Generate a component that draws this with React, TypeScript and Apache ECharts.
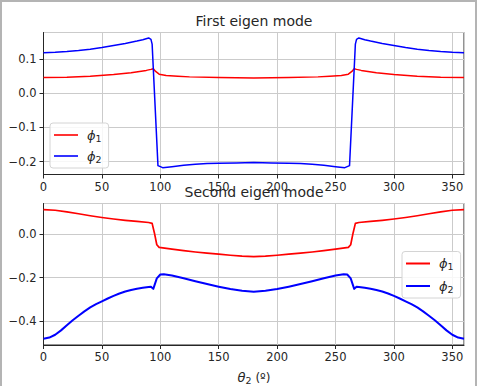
import React, { useEffect, useRef } from "react";
import * as echarts from "echarts";

// First eigen mode: phi_1 and phi_2 against theta_2 (degrees)
const mode1Phi1Theta = [0, 20, 40, 60, 75, 88, 92, 94, 96, 99, 105, 115, 125, 150, 180, 210, 235, 245, 255, 261, 264, 266, 268, 272, 285, 300, 320, 340, 360];
const mode1Phi1 = [0.046, 0.047, 0.05, 0.055, 0.06, 0.067, 0.07, 0.072, 0.064, 0.056, 0.052, 0.05, 0.048, 0.046, 0.045, 0.046, 0.048, 0.05, 0.052, 0.056, 0.064, 0.072, 0.07, 0.067, 0.06, 0.055, 0.05, 0.047, 0.046];

const mode1Phi2Theta = [0, 10, 20, 30, 40, 50, 60, 70, 80, 85, 90, 92, 93, 98, 102, 110, 120, 130, 140, 150, 165, 180, 195, 210, 220, 230, 240, 250, 258, 262, 267, 268, 270, 275, 280, 290, 300, 310, 320, 330, 340, 350, 360];
const mode1Phi2 = [0.119, 0.12, 0.122, 0.125, 0.129, 0.134, 0.14, 0.146, 0.153, 0.157, 0.162, 0.158, 0.144, -0.212, -0.218, -0.215, -0.211, -0.208, -0.206, -0.205, -0.204, -0.203, -0.204, -0.205, -0.206, -0.208, -0.211, -0.215, -0.218, -0.212, 0.144, 0.158, 0.162, 0.157, 0.153, 0.146, 0.14, 0.134, 0.129, 0.125, 0.122, 0.12, 0.119];

// Second eigen mode
const mode2Phi1Theta = [0, 10, 20, 30, 40, 50, 60, 70, 80, 90, 93, 95, 97, 99, 110, 120, 130, 140, 150, 160, 170, 180, 190, 200, 210, 220, 230, 240, 250, 261, 263, 265, 267, 270, 280, 290, 300, 310, 320, 330, 340, 350, 360];
const mode2Phi1 = [0.111, 0.108, 0.101, 0.092, 0.083, 0.075, 0.068, 0.062, 0.057, 0.052, 0.048, 0.003, -0.05, -0.062, -0.07, -0.077, -0.083, -0.088, -0.093, -0.098, -0.102, -0.104, -0.102, -0.098, -0.093, -0.088, -0.083, -0.077, -0.07, -0.062, -0.05, 0.003, 0.048, 0.052, 0.057, 0.062, 0.068, 0.075, 0.083, 0.092, 0.101, 0.108, 0.111];

const mode2Phi2Theta = [0, 5, 10, 15, 20, 25, 30, 35, 40, 45, 50, 55, 60, 65, 70, 75, 80, 85, 90, 92, 94, 97, 100, 103, 110, 120, 130, 140, 150, 160, 170, 180, 190, 200, 210, 220, 230, 240, 250, 257, 260, 263, 266, 268, 270, 275, 280, 285, 290, 295, 300, 305, 310, 315, 320, 325, 330, 335, 340, 345, 350, 355, 360];
const mode2Phi2 = [-0.48, -0.475, -0.462, -0.442, -0.419, -0.396, -0.375, -0.355, -0.337, -0.322, -0.309, -0.296, -0.284, -0.273, -0.264, -0.257, -0.251, -0.247, -0.243, -0.242, -0.252, -0.204, -0.186, -0.185, -0.191, -0.203, -0.217, -0.23, -0.242, -0.253, -0.261, -0.265, -0.261, -0.253, -0.242, -0.23, -0.217, -0.203, -0.191, -0.185, -0.186, -0.204, -0.252, -0.242, -0.243, -0.247, -0.251, -0.257, -0.264, -0.273, -0.284, -0.296, -0.309, -0.322, -0.337, -0.355, -0.375, -0.396, -0.419, -0.442, -0.462, -0.475, -0.48];

const xTickStep = 50;
const titles = ["First eigen mode", "Second eigen mode"];

const pairs = (xs: number[], ys: number[]) => xs.map((x, i) => [x, ys[i]]);

const FONT = "DejaVu Sans";
const INK = "#262626";
const GRID_COLOR = "#cbcbcb";

const fmtY = (v: number) => {
  const r = Math.round(v * 10);
  if (Math.abs(v * 10 - r) > 1e-6) return "";
  return (r / 10).toFixed(1).replace("-", "\u2212");
};
const fmtX = (v: number) => (Math.abs(v % xTickStep) < 1e-6 ? String(v) : "");

// symbol in italics followed by an upright subscript
const mathRich = {
  m: { fontSize: 13, fontStyle: "italic", fontFamily: FONT, color: INK },
  s: { fontSize: 9.5, fontFamily: FONT, color: INK, padding: [6, 0, 0, 0] },
  n: { fontSize: 12, fontFamily: FONT, color: INK },
};

export default function App() {
  const ref = useRef<HTMLDivElement>(null);

  useEffect(() => {
    if (!ref.current) return;
    const chart = echarts.init(ref.current, undefined, { renderer: "svg" });

    const grids = [
      { left: 43.5, top: 32.5, width: 420.5, height: 142 },
      { left: 43.5, top: 203.5, width: 420.5, height: 141.5 },
    ];
    const yRanges = [
      { min: -0.238, max: 0.178, splitNumber: 4 },
      { min: -0.509, max: 0.139, splitNumber: 3 },
    ];

    const legendBase = {
      orient: "vertical",
      icon: "rect",
      itemWidth: 24,
      itemGap: 5,
      padding: [4, 7, 4, 4],
      backgroundColor: "rgba(255,255,255,0.85)",
      borderColor: "#d4d4d4",
      borderWidth: 1,
      borderRadius: 3,
      selectedMode: false,
      formatter: (name: string) => {
        const [sym, sub] = name.split("|")[0].split("_");
        return `{m|${sym}}{s|${sub}}`;
      },
      textStyle: {
        fontSize: 13,
        lineHeight: 16,
        fontFamily: FONT,
        color: INK,
        padding: [0, 0, 0, 4],
        rich: mathRich,
      },
    };

    const option: any = {
      animation: false,
      backgroundColor: "#ffffff",
      grid: grids.map((g) => ({
        ...g,
        show: true,
        backgroundColor: "#ffffff",
        borderColor: INK,
        borderWidth: 1,
        containLabel: false,
        outerBoundsMode: "none",
      })),
      xAxis: grids.map((_, i) => ({
        type: "value",
        gridIndex: i,
        min: 0,
        max: 360,
        interval: xTickStep,
        axisLine: { show: true, onZero: false, lineStyle: { color: INK, width: 1 } },
        axisTick: { show: true, length: 4, lineStyle: { color: INK } },
        axisLabel: { fontSize: 11.5, fontFamily: FONT, color: INK, margin: 6, formatter: fmtX, showMaxLabel: false },
        splitLine: { show: true, lineStyle: { color: GRID_COLOR, width: 1 } },
      })),
      yAxis: grids.map((_, i) => ({
        type: "value",
        gridIndex: i,
        min: yRanges[i].min,
        max: yRanges[i].max,
        splitNumber: yRanges[i].splitNumber,
        axisLine: { show: true, onZero: false, lineStyle: { color: INK, width: 1 } },
        axisTick: { show: true, length: 4, lineStyle: { color: INK } },
        axisLabel: {
          fontSize: 11.5,
          fontFamily: FONT,
          color: INK,
          margin: 7,
          formatter: fmtY,
          showMinLabel: false,
          showMaxLabel: false,
        },
        splitLine: { show: true, lineStyle: { color: GRID_COLOR, width: 1 } },
      })),
      legend: [
        { ...legendBase, left: 50, top: 123, itemHeight: 1.6, data: ["ϕ_1|m1", "ϕ_2|m1"] },
        { ...legendBase, left: 402, top: 251.5, itemHeight: 2, itemGap: 6.5, data: ["ϕ_1|m2", "ϕ_2|m2"] },
      ],
      series: [
        { name: "ϕ_1|m1", data: pairs(mode1Phi1Theta, mode1Phi1), axis: 0, color: "#ff0000", width: 1.5 },
        { name: "ϕ_2|m1", data: pairs(mode1Phi2Theta, mode1Phi2), axis: 0, color: "#0000ff", width: 1.5 },
        { name: "ϕ_1|m2", data: pairs(mode2Phi1Theta, mode2Phi1), axis: 1, color: "#ff0000", width: 1.7 },
        { name: "ϕ_2|m2", data: pairs(mode2Phi2Theta, mode2Phi2), axis: 1, color: "#0000ff", width: 2 },
      ].map((s) => ({
        type: "line",
        name: s.name,
        data: s.data,
        xAxisIndex: s.axis,
        yAxisIndex: s.axis,
        symbol: "none",
        showSymbol: false,
        smooth: false,
        clip: true,
        color: s.color,
        lineStyle: { color: s.color, width: s.width, join: "round" },
        itemStyle: { color: s.color },
      })),
      graphic: [
        { type: "text", x: 254, y: 20.5, style: { text: titles[0], fontSize: 14, fontFamily: FONT, fill: INK, align: "center", verticalAlign: "middle", textAlign: "center", textVerticalAlign: "middle" } },
        { type: "text", x: 254, y: 192, z: 10, style: { text: titles[1], fontSize: 14, fontFamily: FONT, fill: INK, align: "center", verticalAlign: "middle", textAlign: "center", textVerticalAlign: "middle" } },
        {
          type: "text",
          x: 254,
          y: 377.5,
          style: {
            text: "{m|θ}{s|2}{n| (º)}",
            rich: mathRich,
            fontSize: 12,
            fontFamily: FONT,
            fill: INK,
            align: "center",
            verticalAlign: "middle",
            textAlign: "center",
            textVerticalAlign: "middle",
          },
        },
        // outer frame of the figure
        { type: "line", shape: { x1: 1, y1: 0, x2: 1, y2: 386 }, style: { stroke: "#b4b4b4", lineWidth: 2 } },
        { type: "line", shape: { x1: 0, y1: 1, x2: 477, y2: 1 }, style: { stroke: "#b4b4b4", lineWidth: 2 } },
        { type: "line", shape: { x1: 476, y1: 0, x2: 476, y2: 386 }, style: { stroke: "#b4b4b4", lineWidth: 2 } },
      ],
    };

    chart.setOption(option);
    return () => chart.dispose();
  }, []);

  return (
    <div
      ref={ref}
      style={{ position: "fixed", left: 0, top: 0, width: 483, height: 386, background: "#fff" }}
    />
  );
}
